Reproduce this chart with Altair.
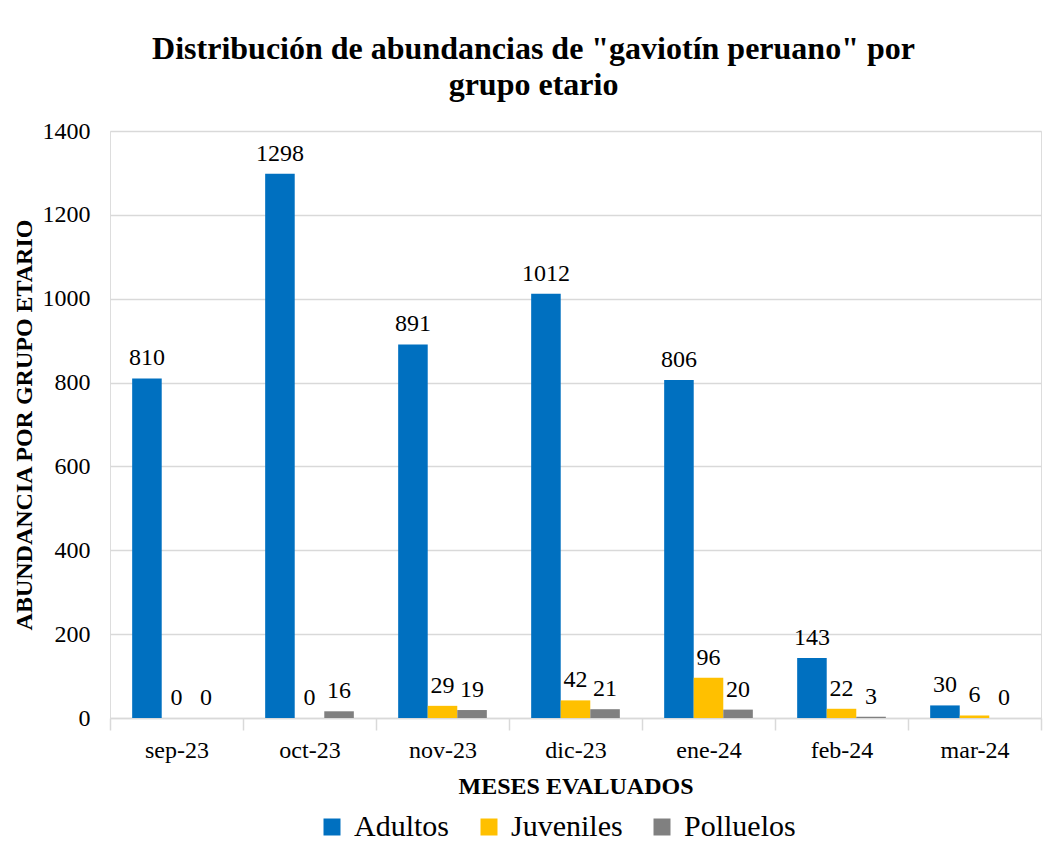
import altair as alt
import pandas as pd

months = ["sep-23", "oct-23", "nov-23", "dic-23", "ene-24", "feb-24", "mar-24"]
series = ["Adultos", "Juveniles", "Polluelos"]
adultos = [810, 1298, 891, 1012, 806, 143, 30]
juveniles = [0, 0, 29, 42, 96, 22, 6]
polluelos = [0, 16, 19, 21, 20, 3, 0]
colors = ["#0070C0", "#FFC000", "#808080"]
y_ticks = [0, 200, 400, 600, 800, 1000, 1200, 1400]

rows = []
for s, vals in zip(series, [adultos, juveniles, polluelos]):
    for m, v in zip(months, vals):
        rows.append({"mes": m, "grupo": s, "valor": v})
df = pd.DataFrame(rows)

FONT = "Liberation Serif"

base = alt.Chart(df).encode(
    x=alt.X(
        "mes:N",
        sort=months,
        scale=alt.Scale(paddingInner=0, paddingOuter=0),
        axis=alt.Axis(
            title="MESES EVALUADOS",
            labelAngle=0,
            labelFont=FONT,
            labelFontSize=24,
            labelColor="#000000",
            labelPadding=8,
            titleFont=FONT,
            titleFontSize=24,
            titleFontWeight="bold",
            titleColor="#000000",
            titlePadding=12,
            domainColor="#d9d9d9",
            domainWidth=1.5,
            tickColor="#d9d9d9",
            tickSize=12,
            tickWidth=1.5,
            tickBand="extent",
        ),
    ),
    xOffset=alt.XOffset("grupo:N", sort=series, scale=alt.Scale(paddingInner=0, paddingOuter=0.75)),
    y=alt.Y(
        "valor:Q",
        scale=alt.Scale(domain=[0, 1400], nice=False),
        axis=alt.Axis(
            title="ABUNDANCIA POR GRUPO ETARIO",
            values=y_ticks,
            format="d",
            labelFont=FONT,
            labelFontSize=24,
            labelColor="#000000",
            labelPadding=20,
            titleFont=FONT,
            titleFontSize=24,
            titleFontWeight="bold",
            titleColor="#000000",
            titlePadding=6,
            domain=False,
            ticks=False,
            gridColor="#d9d9d9",
            gridWidth=1.5,
        ),
    ),
)

bars = base.mark_bar().encode(
    color=alt.Color(
        "grupo:N",
        sort=series,
        scale=alt.Scale(domain=series, range=colors),
        legend=alt.Legend(
            title=None,
            orient="none",
            legendX=207,
            legendY=681,
            padding=0,
            direction="horizontal",
            symbolType="square",
            symbolSize=289,
            symbolStrokeWidth=0,
            labelFont=FONT,
            labelFontSize=30,
            labelColor="#000000",
            columnPadding=24,
            labelOffset=7,
        ),
    )
)

labels = base.mark_text(
    font=FONT, fontSize=24, color="#000000", baseline="bottom", dy=-8
).encode(text=alt.Text("valor:Q"))

chart = (
    (bars + labels)
    .properties(
        width=931,
        height=587,
        autosize=alt.AutoSizeParams(type="none"),
        padding={"left": 102, "top": 123, "right": 5, "bottom": 124},
        title=alt.TitleParams(
            text=['Distribución de abundancias de "gaviotín peruano" por', "grupo etario"],
            font=FONT,
            fontSize=32,
            fontWeight="bold",
            color="#000000",
            anchor="middle",
            dx=-42,
            offset=17,
            lineHeight=36,
        ),
    )
    .configure_view(stroke=None)
    .configure_legend(labelFont=FONT)
    .configure(background="#ffffff", font=FONT)
)

chart.save("out.html", embed_options={"renderer": "svg", "actions": False})
